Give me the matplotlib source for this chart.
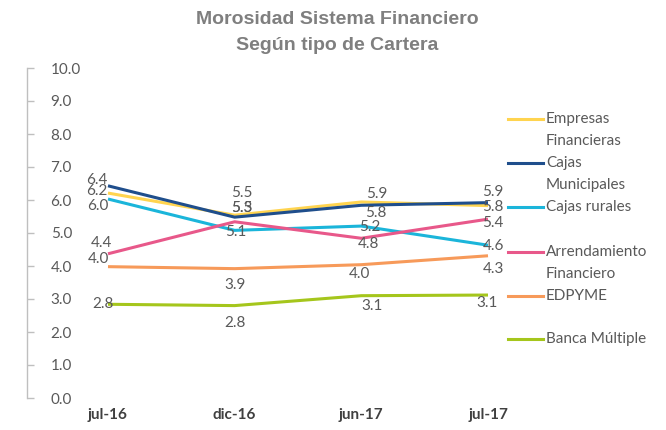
import matplotlib
matplotlib.use("Agg")
import matplotlib.pyplot as plt
from matplotlib.lines import Line2D

# ---------------- data ----------------
categories = ["jul-16", "dic-16", "jun-17", "jul-17"]
series_names = ["Empresas\nFinancieras", "Cajas\nMunicipales", "Cajas rurales",
                "Arrendamiento\nFinanciero", "EDPYME", "Banca Múltiple"]
empresas_financieras = [6.21, 5.54, 5.94, 5.83]
cajas_municipales = [6.43, 5.48, 5.84, 5.92]
cajas_rurales = [6.03, 5.08, 5.21, 4.63]
arrendamiento_financiero = [4.37, 5.34, 4.84, 5.42]
edpyme = [3.98, 3.92, 4.04, 4.31]
banca_multiple = [2.84, 2.80, 3.10, 3.12]
y_ticks = [0, 1, 2, 3, 4, 5, 6, 7, 8, 9, 10]

series_values = [empresas_financieras, cajas_municipales, cajas_rurales,
                 arrendamiento_financiero, edpyme, banca_multiple]

# ---------------- styles ----------------
colors = ["#FFD44F", "#1F4E8C", "#1BB5DA", "#E8588A", "#F79A5A", "#A5C61C"]
# data-label offsets in pixels (dx, dy) per series, per point
label_offsets = [
    [(-11, 2), (7, 22), (15, 8), (5, -1)],
    [(-11, 6), (7, 9), (14, -8), (5, 11)],
    [(-10, -7), (1, -2), (8, -1), (5, -1)],
    [(-7, 11), (7, 14), (7, -6), (5, -4)],
    [(-10, 8), (0, -16), (-2, -9), (5, -13)],
    [(-5, 0), (0, -17), (11, -10), (-1, -8)],
]
text_color = "#595959"
font = "Lato"

W, H = 666, 430
fig = plt.figure(figsize=(W / 100, H / 100), dpi=100)
ax_left, ax_right = 27, 500
ax_bottom, ax_top = 398, 68
ax = fig.add_axes([ax_left / W, 1 - ax_bottom / H,
                   (ax_right - ax_left) / W, (ax_bottom - ax_top) / H])

x = list(range(len(categories)))
px_per_unit = 126.67
ax.set_xlim(-(108 - ax_left) / px_per_unit, 3 + (ax_right - 488) / px_per_unit)
ax.set_ylim(0, 10)

for vals, col, offs in zip(series_values, colors, label_offsets):
    ax.plot(x, vals, color=col, lw=2.2, solid_capstyle="butt", zorder=3)
    for xi, v, (dx, dy) in zip(x, vals, offs):
        ax.annotate(f"{v:.1f}", (xi, v), xytext=(dx, dy), textcoords="offset pixels",
                    ha="center", va="center", fontsize=11, color=text_color,
                    family=font, zorder=4)

# axes styling
for s in ["top", "right", "bottom"]:
    ax.spines[s].set_visible(False)
ax.spines["left"].set_color("#BFBFBF")
ax.spines["left"].set_linewidth(1.0)
ax.set_yticks(y_ticks)
ax.set_yticklabels([f"{t:.1f}" for t in y_ticks])
ax.tick_params(axis="y", direction="in", length=5, width=1.0, color="#BFBFBF",
               pad=-17, labelsize=11, labelcolor=text_color)
for lab in ax.get_yticklabels():
    lab.set_horizontalalignment("left")
    lab.set_family(font)
ax.set_xticks(x)
ax.set_xticklabels(categories)
ax.tick_params(axis="x", length=0, pad=7, labelsize=11, labelcolor="#404040")
for lab in ax.get_xticklabels():
    lab.set_family(font)
    lab.set_fontweight("bold")

# title
fig.text(337 / W, 1 - 20 / H, "Morosidad Sistema Financiero", ha="center", va="center",
         fontsize=14, fontweight="bold", color="#7F7F7F", family="Liberation Sans")
fig.text(337 / W, 1 - 45 / H, "Según tipo de Cartera", ha="center", va="center",
         fontsize=14, fontweight="bold", color="#7F7F7F", family="Liberation Sans")

# legend (Excel-style: handle aligned with first text line)
handle_y = [119, 163, 207, 252, 296, 339]
for name, col, hy in zip(series_names, colors, handle_y):
    fig.add_artist(Line2D([508 / W, 543 / W], [1 - hy / H, 1 - hy / H],
                          color=col, lw=2.2, transform=fig.transFigure))
    for i, line in enumerate(name.split("\n")):
        fig.text(546 / W, 1 - (hy + 22 * i) / H, line, ha="left", va="center",
                 fontsize=11, color=text_color, family=font)

fig.savefig("out.png", dpi=100)
